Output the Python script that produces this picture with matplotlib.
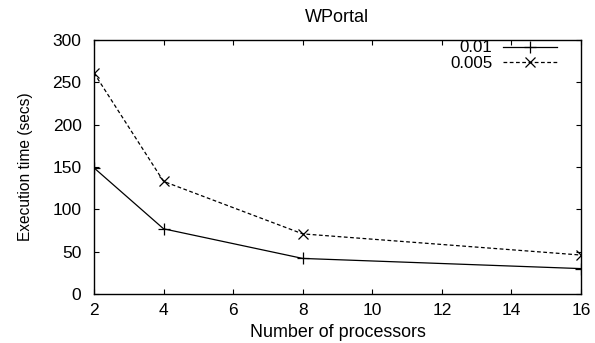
import matplotlib
matplotlib.use("Agg")
import matplotlib.pyplot as plt

processors = [2, 4, 8, 16]
series_001 = [149, 77, 42, 30]
series_0005 = [261, 133, 71, 46]
labels = ["0.01", "0.005"]
xticks = [2, 4, 6, 8, 10, 12, 14, 16]
yticks = [0, 50, 100, 150, 200, 250, 300]

plt.rcParams['font.family'] = ['Liberation Sans', 'DejaVu Sans']
fig = plt.figure(figsize=(5.95, 3.43), dpi=100)
L, R, T, B = 94, 581, 40, 294
ax = fig.add_axes([L/595, 1 - B/343, (R-L)/595, (B-T)/343])

ax.plot(processors, series_001, color='black', lw=0.9, marker='+', ms=8, mew=0.9, label=labels[0])
ax.plot(processors, series_0005, color='black', lw=0.9, ls=(0, (3, 2)), marker='x', ms=7.5, mew=0.9, label=labels[1])

ax.set_xlim(2, 16)
ax.set_ylim(0, 300)
ax.set_xticks(xticks)
ax.set_yticks(yticks)
ax.tick_params(direction='in', top=True, right=True, labelsize=12.5, length=3.5, width=0.8)
ax.tick_params(axis='x', pad=6.5)
ax.tick_params(axis='y', pad=9)
for s in ax.spines.values():
    s.set_linewidth(1.0)

ax.set_title("WPortal", fontsize=13, pad=13, x=(337-L)/(R-L))
ax.set_xlabel("Number of processors", fontsize=12.9, labelpad=4)
ax.set_ylabel("Execution time (secs)", fontsize=11.2, labelpad=14)

leg = ax.legend(loc='upper right', markerfirst=False, frameon=False, fontsize=12.2,
                handlelength=3.2, handletextpad=0.6, borderaxespad=0, borderpad=0,
                labelspacing=0.0,
                bbox_to_anchor=((557-L)/(R-L), 1 - 0.5/(B-T)))

fig.savefig("out.png", dpi=100)
